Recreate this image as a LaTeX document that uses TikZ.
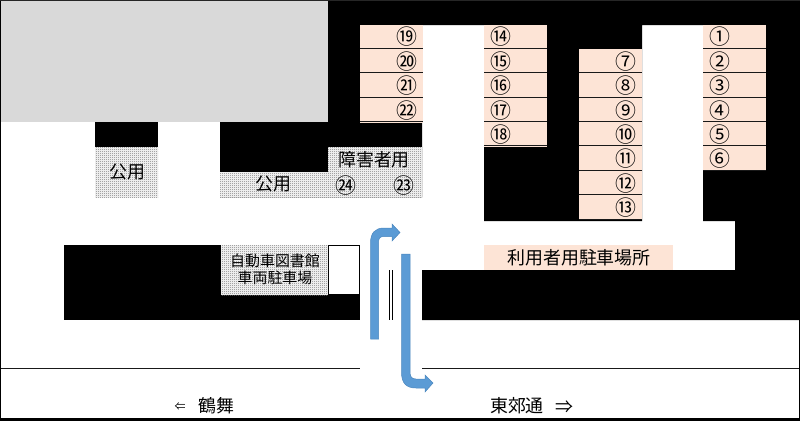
\documentclass[tikz,border=0pt]{standalone}
\usepackage{fontspec}
\usetikzlibrary{patterns}
\newfontfamily\jpfont{Noto Sans CJK JP}
\definecolor{cellpeach}{HTML}{FDE4D6}
\definecolor{arrowblue}{HTML}{5B9BD5}
\definecolor{arrowedge}{HTML}{4A86BE}
\pgfdeclarepatternformonly{finedots}{\pgfqpoint{0bp}{0bp}}{\pgfqpoint{2bp}{2bp}}{\pgfqpoint{2bp}{2bp}}{
	\pgfpathrectangle{\pgfqpoint{0bp}{0bp}}{\pgfqpoint{1bp}{1bp}}
	\pgfpathrectangle{\pgfqpoint{1bp}{1bp}}{\pgfqpoint{1bp}{1bp}}
	\pgfusepath{fill}
}
\tikzset{
	dotbox/.style={pattern=finedots, pattern color=black!55},
	roadline/.style={line width=1bp, color=black!90},
	bentarrow/.style={fill=arrowblue, draw=arrowedge, line width=0.5bp},
	bigtext/.style={font=\jpfont\fontsize{18}{18}\selectfont, inner sep=0pt},
	midtext/.style={font=\jpfont\fontsize{15}{15}\selectfont, inner sep=0pt},
	numtext/.style={font=\jpfont\fontsize{21}{21}\selectfont, inner sep=0pt}
}

\begin{document}
\begin{tikzpicture}[x=1bp, y=-1bp]
		%%%%% START %%%%%
		\useasboundingbox (0, 0) rectangle (800, 421);
		
		\fill[color=black!15] (1, 1) rectangle (328, 122);
		
		\fill[color=black] (328, 0) -- (800, 0) -- (800, 320) -- (422, 320) -- (422, 270) -- (735, 270) -- (735, 221) -- (703, 221) -- (703, 25) -- (642, 25) -- (642, 221) -- (484, 221) -- (484, 25) -- (422, 25) -- (422, 197) -- (220, 197) -- (220, 122) -- (328, 122) -- cycle;
		\fill[color=black] (95, 122) rectangle (158, 197);
		\fill[color=black] (64, 245) rectangle (360, 320);
		
		% stalls
		\foreach \colx/\coltop/\numx/\collist in {360/25/47/{⑲,⑳,㉑,㉒}, 484/25/17/{⑭,⑮,⑯,⑰,⑱}, 579/49.4/47/{⑦,⑧,⑨,⑩,⑪,⑫,⑬}, 703/25/17/{①,②,③,④,⑤,⑥}}{
			\foreach \n [count=\i] in \collist {
				\fill[color=cellpeach] (\colx, {\coltop+(\i-1)*24.4}) rectangle (\colx+63, {\coltop+\i*24.4});
				\draw[line width=1bp, color=black!90] (\colx, {floor(\coltop+\i*24.4)-0.5}) -- (\colx+63, {floor(\coltop+\i*24.4)-0.5});
				\node[numtext] (num-\colx-\i) at (\colx+\numx, {\coltop+(\i-1)*24.4+12}) {\n};
			}
		}
		\fill[color=cellpeach] (484, 245) rectangle (673, 270);
		\node[bigtext] (userlot) at (579, 258) {利用者用駐車場所};
		
		% shared spaces
		\fill[color=white] (95, 147) rectangle (158, 197);
		\fill[dotbox] (95, 147) rectangle (158, 197);
		\node[bigtext] (shared1) at (127, 172) {公用};
		\fill[color=white] (220, 172) rectangle (422, 197);
		\fill[color=white] (328, 147) rectangle (422, 197);
		\fill[dotbox] (220, 172) rectangle (328, 197);
		\fill[dotbox] (328, 147) rectangle (422, 197);
		\node[bigtext] (shared2) at (273, 184) {公用};
		\node[bigtext] (disabled) at (374, 160) {障害者用};
		\node[numtext] (num24) at (346, 186) {㉔};
		\node[numtext] (num23) at (404, 186) {㉓};
		
		% library bus
		\fill[color=white] (221, 245) rectangle (328, 295);
		\fill[dotbox] (221, 245) rectangle (328, 295);
		\node[midtext] (busline1) at (275, 261) {自動車図書館};
		\node[midtext] (busline2) at (275, 278) {車両駐車場};
		\fill[color=white] (329, 246) rectangle (359, 294);
		
		% entrance
		\draw[line width=1bp] (389.5, 270) -- (389.5, 320);
		\draw[line width=1bp] (392.5, 270) -- (392.5, 320);
		\draw[bentarrow] (370.5, 339) -- (370.5, 243) .. controls (370.5, 233) and (375, 228) .. (384, 228) -- (392, 228) -- (392, 224) -- (400, 232.5) -- (392, 241) -- (392, 236.5) -- (384, 236.5) .. controls (380, 236.5) and (378.5, 238) .. (378.5, 243) -- (378.5, 339) -- cycle;
		\draw[bentarrow] (401.5, 254) -- (401.5, 372) .. controls (401.5, 383) and (406, 388) .. (416, 388) -- (425, 388) -- (425, 392) -- (433, 383) -- (425, 375) -- (425, 379) -- (416, 379) .. controls (412, 379) and (410, 377) .. (410, 372) -- (410, 254) -- cycle;
		
		% road
		\draw[roadline] (0, 368.5) -- (360, 368.5);
		\draw[roadline] (422, 368.5) -- (800, 368.5);
		\node[font=\jpfont\fontsize{11}{11}\selectfont, inner sep=0pt] (westarrow) at (180, 407) {⇐};
		\node[bigtext] (west) at (216, 406) {鶴舞};
		\node[bigtext] (east) at (517, 406) {東郊通};
		\node[bigtext] (eastarrow) at (564, 407) {⇒};
		
		% frame
		\draw[line width=1bp] (0.5, 0) -- (0.5, 421);
		\draw[line width=1bp] (799.5, 0) -- (799.5, 421);
		\draw[line width=1bp, color=black!85] (0, 0.5) -- (800, 0.5);
		\draw[line width=2.5bp] (0, 419.5) -- (800, 419.5);
		%%%%% END %%%%%
	\end{tikzpicture}
\end{document}
